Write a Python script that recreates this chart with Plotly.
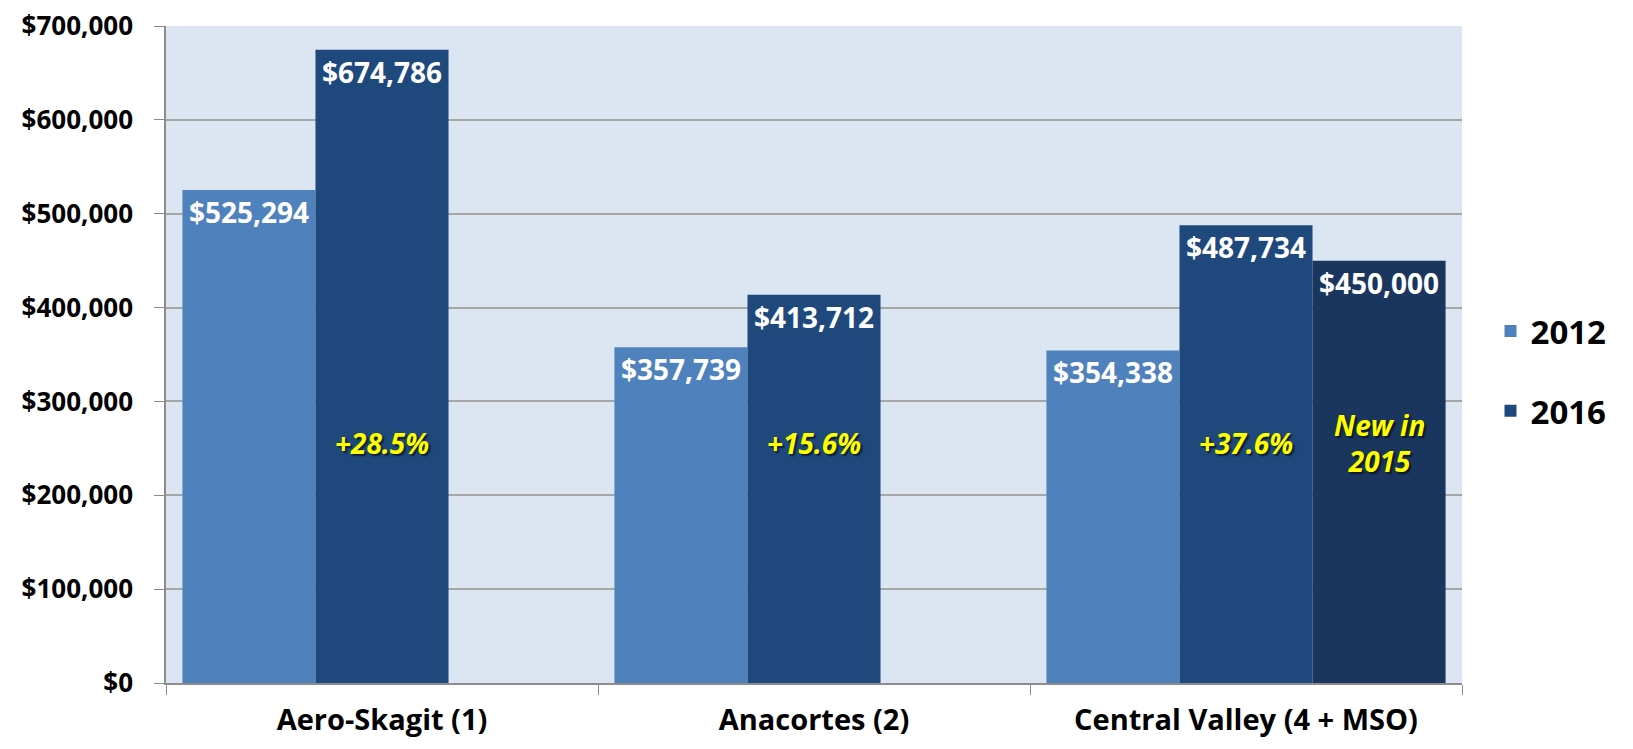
import plotly.graph_objects as go

categories = ["Aero-Skagit (1)", "Anacortes (2)", "Central Valley (4 + MSO)"]
values_2012 = [525294, 357739, 354338]
values_2016 = [674786, 413712, 487734]
values_2016_new = [None, None, 450000]
growth_labels = ["+28.5%", "+15.6%", "+37.6%"]
new_label = "New in<br>2015"
label_y = 256000

FONT = "Open Sans"
bargap = 0.076
slot = (1 - bargap) / 3

fig = go.Figure()
common = dict(
    texttemplate="$%{y:,.0f}",
    textposition="inside",
    insidetextanchor="end",
    textangle=0,
    textfont=dict(family=FONT, size=28, color="white", weight="bold"),
    marker_line_width=0,
    hoverinfo="skip",
)
fig.add_trace(go.Bar(x=categories, y=values_2012, name="2012",
                     marker_color="#4f81bd", legendgroup="a", **common))
fig.add_trace(go.Bar(x=categories, y=values_2016, name="2016",
                     marker_color="#1f497d", legendgroup="b", **common))
fig.add_trace(go.Bar(x=categories, y=values_2016_new, name="2016 new",
                     marker_color="#1a365e", showlegend=False, legendgroup="c", **common))

ann_font = dict(family=FONT, size=28, color="#ffff00", weight="bold", style="italic",
                shadow="2px 2px 2px rgba(0,0,0,0.6)")
annotations = []
for i, g in enumerate(growth_labels):
    annotations.append(dict(x=i, y=label_y, xref="x", yref="y", text=g,
                            showarrow=False, font=ann_font))
annotations.append(dict(x=2 + slot, y=label_y, xref="x", yref="y", text=new_label,
                        showarrow=False, font=ann_font))

fig.update_layout(
    width=1633, height=749,
    margin=dict(l=158, r=179, t=18, b=74, autoexpand=False),
    paper_bgcolor="white",
    plot_bgcolor="#dce6f2",
    barmode="group",
    bargap=bargap,
    bargroupgap=0,
    annotations=annotations,
    showlegend=True,
    legend=dict(x=1.022, xanchor="left", y=0.475, yanchor="middle",
                font=dict(family=FONT, size=33, color="black", weight="bold"),
                tracegroupgap=34, bgcolor="rgba(0,0,0,0)"),
    font=dict(family=FONT),
)
fig.update_yaxes(
    range=[0, 700000], dtick=100000,
    tickprefix="$", tickformat=",.0f",
    tickfont=dict(family=FONT, size=26, color="black", weight="bold"),
    showgrid=True, gridcolor="#a6a6a6", gridwidth=1.5,
    showline=True, linecolor="#8c8c8c", linewidth=1.5,
    ticks="outside", ticklen=10, tickcolor="#8c8c8c",
    ticklabelstandoff=16, ticklabeloverflow="allow",
    zeroline=False, automargin=False,
)
fig.update_xaxes(
    tickfont=dict(family=FONT, size=29, color="black", weight="bold"),
    showline=True, linecolor="#8c8c8c", linewidth=1.5,
    ticks="outside", ticklen=10, tickcolor="#8c8c8c",
    tickson="boundaries", ticklabelstandoff=10, ticklabeloverflow="allow",
    showgrid=False, automargin=False,
)

fig.write_html("out.html")
